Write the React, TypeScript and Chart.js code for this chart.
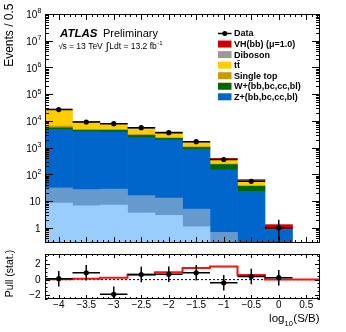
import React, { useEffect, useRef } from 'react';
import { Chart, registerables } from 'chart.js';

Chart.register(...registerables);

// ---------------- data ----------------
const binCenters = [-4, -3.5, -3, -2.5, -2, -1.5, -1, -0.5, 0];
const binWidth = 0.5;
const zLight = [8.5, 6.7, 7.1, 3.6, 2.9, 1.1, 0.25, 0.05, 0.01];
const zCl = [22.5, 20.3, 20.9, 12.4, 10.1, 3.9, 0.42, 0.1, 0.02];
const zHF = [4799, 3933, 3802, 2339, 1902, 850, 147, 23, 0.81];
const wHF = [670, 470, 600, 520, 305, 165, 85, 12.5, 0.01];
const singleTop = [950, 400, 400, 265, 135, 60, 11, 2.2, 0.001];
const ttbar = [20250, 3800, 2620, 1690, 1065, 450, 107, 17, 0.001];
const diboson = [570, 700, 650, 730, 360, 85, 9, 3, 0.01];
const vhSignal = [30, 20, 30, 40, 50, 50, 33, 5.8, 0.45];
const dataValues = [26500, 9100, 7900, 5600, 3630, 1667, 360, 55, 1];
const dataErrors = [163, 95, 89, 75, 60, 41, 19, 7.4, 1];
const pullValues = [0.12, 0.87, -1.9, 0.66, 0.7, 0.87, -0.42, 0.41, 0.25];
const pullErrors = [1, 1, 1, 1, 1, 1, 1, 1, 1];
const expBinCenters = [-4, -3.5, -3, -2.5, -2, -1.5, -1, -0.5, 0, 0.5];
const expectedPull = [0.04, 0.04, 0.12, 0.25, 0.62, 0.95, 1.5, 1.7, 0.58, 0];
const xTickValues = [-4, -3.5, -3, -2.5, -2, -1.5, -1, -0.5, 0, 0.5];
const yDecades = [0, 1, 2, 3, 4, 5, 6, 7, 8];
const pullTickValues = [-2, 0, 2];

const stackSeries = [
  { name: 'Z+l', values: zLight, color: '#99ccff' },
  { name: 'Z+cl', values: zCl, color: '#6699cc' },
  { name: 'Z+(bb,bc,cc,bl)', values: zHF, color: '#0066cc' },
  { name: 'W+(bb,bc,cc,bl)', values: wHF, color: '#006600' },
  { name: 'Single top', values: singleTop, color: '#cc9900' },
  { name: 't\u0074\u0304', values: ttbar, color: '#ffcc00' },
  { name: 'Diboson', values: diboson, color: '#999999' },
  { name: 'VH(bb) (\u03bc=1.0)', values: vhSignal, color: '#d00000' },
];
const legendOrder = ['VH(bb) (\u03bc=1.0)', 'Diboson', 't\u0074\u0304', 'Single top', 'W+(bb,bc,cc,bl)', 'Z+(bb,bc,cc,bl)'];

// ---------------- layout ----------------
const FONT = "'Liberation Sans', Arial, Helvetica, sans-serif";
const W = 346;
const PLOT_L = 45;
const PLOT_R = 320;
const MAIN_H = 250;
const PULL_H = 82;

function drawFrameTicks(ctx: any, a: any, xs: any, ys: any, o: any) {
  ctx.save();
  ctx.strokeStyle = '#000';
  ctx.lineWidth = 1;
  ctx.beginPath();
  for (const v of o.xMajor) {
    const x = Math.round(xs.getPixelForValue(v)) + 0.5;
    ctx.moveTo(x, a.bottom); ctx.lineTo(x, a.bottom - o.xMajLen);
    ctx.moveTo(x, a.top); ctx.lineTo(x, a.top + o.xMajLen);
  }
  for (const v of o.xMinor) {
    const x = Math.round(xs.getPixelForValue(v)) + 0.5;
    ctx.moveTo(x, a.bottom); ctx.lineTo(x, a.bottom - o.xMinLen);
    ctx.moveTo(x, a.top); ctx.lineTo(x, a.top + o.xMinLen);
  }
  for (const v of o.yMajor) {
    const y = Math.round(ys.getPixelForValue(v)) + 0.5;
    ctx.moveTo(a.left, y); ctx.lineTo(a.left + o.yMajLen, y);
    ctx.moveTo(a.right, y); ctx.lineTo(a.right - o.yMajLen, y);
  }
  for (const v of o.yMinor) {
    const y = Math.round(ys.getPixelForValue(v)) + 0.5;
    ctx.moveTo(a.left, y); ctx.lineTo(a.left + o.yMinLen, y);
    ctx.moveTo(a.right, y); ctx.lineTo(a.right - o.yMinLen, y);
  }
  ctx.stroke();
  ctx.strokeRect(Math.round(a.left) + 0.5, Math.round(a.top) + 0.5, Math.round(a.right - a.left) - 1, Math.round(a.bottom - a.top) - 1);
  ctx.restore();
}

function xMinorList() {
  const out: number[] = [];
  for (let k = -42; k <= 7; k++) if (k % 5 !== 0) out.push(k / 10);
  return out;
}

function drawErrorBars(ctx: any, a: any, xs: any, ys: any, centers: number[], vals: number[], errs: number[], logY: boolean) {
  ctx.save();
  ctx.beginPath();
  ctx.rect(a.left, a.top, a.right - a.left, a.bottom - a.top);
  ctx.clip();
  ctx.strokeStyle = '#000';
  ctx.lineWidth = 1.5;
  ctx.beginPath();
  centers.forEach((c, i) => {
    const y = ys.getPixelForValue(vals[i]);
    const x0 = xs.getPixelForValue(c - binWidth / 2);
    const x1 = xs.getPixelForValue(c + binWidth / 2);
    const xc = xs.getPixelForValue(c);
    const lo = vals[i] - errs[i];
    const yLo = logY && lo <= ys.min ? a.bottom : ys.getPixelForValue(lo);
    const yHi = ys.getPixelForValue(vals[i] + errs[i]);
    ctx.moveTo(x0, y); ctx.lineTo(x1, y);
    ctx.moveTo(xc, yLo); ctx.lineTo(xc, yHi);
  });
  ctx.stroke();
  ctx.restore();
}

const mainDecor = {
  id: 'mainDecor',
  afterDatasetsDraw(chart: any) {
    const ctx = chart.ctx;
    const xs = chart.scales.x;
    const ys = chart.scales.y;
    const a = chart.chartArea;
    drawErrorBars(ctx, a, xs, ys, binCenters, dataValues, dataErrors, true);

    const yMinor: number[] = [];
    for (let e = -1; e <= 7; e++) for (let m = 2; m <= 9; m++) {
      const v = m * Math.pow(10, e);
      if (v >= ys.min && v <= ys.max) yMinor.push(v);
    }
    drawFrameTicks(ctx, a, xs, ys, {
      xMajor: xTickValues, xMinor: xMinorList(), xMajLen: 6, xMinLen: 3,
      yMajor: yDecades.map((e) => Math.pow(10, e)), yMinor, yMajLen: 8, yMinLen: 4,
    });

    ctx.save();
    ctx.fillStyle = '#000';
    // y tick labels
    const right = 41.5;
    for (const e of yDecades) {
      const y = ys.getPixelForValue(Math.pow(10, e));
      ctx.textBaseline = 'middle';
      ctx.textAlign = 'right';
      if (e === 0 || e === 1) {
        ctx.font = `10px ${FONT}`;
        ctx.fillText(e === 0 ? '1' : '10', right - 1, y + 1);
      } else {
        ctx.font = `7px ${FONT}`;
        const ex = String(e);
        const ew = ctx.measureText(ex).width;
        ctx.fillText(ex, right, y - 2.5);
        ctx.font = `10px ${FONT}`;
        ctx.fillText('10', right - ew - 0.3, y + 1.5);
      }
    }
    // y title
    ctx.save();
    ctx.translate(10, 3.5);
    ctx.rotate(-Math.PI / 2);
    ctx.font = `12px ${FONT}`;
    ctx.textAlign = 'right';
    ctx.textBaseline = 'middle';
    ctx.fillText('Events / 0.5', 0, 0);
    ctx.restore();

    // ATLAS label
    ctx.textAlign = 'left';
    ctx.textBaseline = 'alphabetic';
    ctx.font = `italic bold 11.5px ${FONT}`;
    ctx.fillText('ATLAS', 60, 36.5);
    ctx.font = `11px ${FONT}`;
    ctx.fillText('Preliminary', 103, 36.5);
    // second line: sqrt(s) and luminosity
    ctx.font = `8px ${FONT}`;
    ctx.fillText('\u221A', 58.5, 48.5);
    const wRoot = ctx.measureText('\u221A').width;
    const t1 = 's = 13 TeV';
    ctx.font = `8.5px ${FONT}`;
    ctx.fillText(t1, 58.5 + wRoot - 0.5, 48.5);
    const w1 = ctx.measureText(t1).width;
    const xInt = Math.max(58.5 + wRoot + w1 + 2.5, 101);
    ctx.font = `11px ${FONT}`;
    ctx.fillText('\u222B', xInt, 49.5);
    const wInt = ctx.measureText('\u222B').width;
    ctx.font = `8.5px ${FONT}`;
    const t2 = 'Ldt = 13.2 fb';
    ctx.fillText(t2, xInt + wInt + 0.5, 48.5);
    const w2 = ctx.measureText(t2).width;
    ctx.font = `6px ${FONT}`;
    ctx.fillText('-1', xInt + wInt + 0.5 + w2 + 0.5, 44.5);

    // legend
    const rowY0 = 33.5;
    const rowStep = 10.55;
    const boxX = 218;
    const boxW = 13.5;
    const textX = 234;
    ctx.font = `bold 9px ${FONT}`;
    ctx.textBaseline = 'middle';
    ctx.strokeStyle = '#000';
    ctx.lineWidth = 1.5;
    ctx.beginPath();
    ctx.moveTo(boxX, rowY0); ctx.lineTo(boxX + boxW, rowY0);
    ctx.stroke();
    ctx.beginPath();
    ctx.arc(boxX + boxW / 2, rowY0, 2.5, 0, Math.PI * 2);
    ctx.fill();
    ctx.fillText('Data', textX, rowY0 + 0.5);
    legendOrder.forEach((name, i) => {
      const s = stackSeries.find((q) => q.name === name)!;
      const y = rowY0 + rowStep * (i + 1);
      ctx.fillStyle = s.color;
      ctx.fillRect(boxX, y - 3.5, boxW, 7);
      ctx.fillStyle = '#000';
      ctx.fillText(name, textX, y + 0.5);
    });
    ctx.restore();
  },
};

const pullDecor = {
  id: 'pullDecor',
  afterDatasetsDraw(chart: any) {
    const ctx = chart.ctx;
    const xs = chart.scales.x;
    const ys = chart.scales.y;
    const a = chart.chartArea;
    drawErrorBars(ctx, a, xs, ys, binCenters, pullValues, pullErrors, false);
    const yMinor: number[] = [];
    for (let k = -5; k <= 6; k++) {
      const v = k / 2;
      if (!pullTickValues.includes(v)) yMinor.push(v);
    }
    drawFrameTicks(ctx, a, xs, ys, {
      xMajor: xTickValues, xMinor: xMinorList(), xMajLen: 4, xMinLen: 2,
      yMajor: pullTickValues, yMinor, yMajLen: 5, yMinLen: 2.5,
    });
    ctx.save();
    ctx.fillStyle = '#000';
    ctx.font = `10px ${FONT}`;
    ctx.textAlign = 'right';
    ctx.textBaseline = 'middle';
    for (const v of pullTickValues) {
      const y = ys.getPixelForValue(v);
      ctx.fillText(v < 0 ? '\u2212' + Math.abs(v) : String(v), 40.5, y + 0.5);
    }
    // y title
    ctx.save();
    ctx.translate(10, 23.5);
    ctx.rotate(-Math.PI / 2);
    ctx.font = `10.5px ${FONT}`;
    ctx.textAlign = 'center';
    ctx.textBaseline = 'middle';
    ctx.fillText('Pull (stat.)', 0, 0);
    ctx.restore();
    // x title log10(S/B)
    ctx.textAlign = 'left';
    ctx.textBaseline = 'alphabetic';
    ctx.font = `11.5px ${FONT}`;
    const wLog = ctx.measureText('log').width;
    const wSB = ctx.measureText('(S/B)').width;
    ctx.font = `7.5px ${FONT}`;
    const wSub = ctx.measureText('10').width;
    const x0 = 319.5 - wLog - wSub - wSB - 0.5;
    ctx.font = `11.5px ${FONT}`;
    ctx.fillText('log', x0, 71.5);
    ctx.fillText('(S/B)', x0 + wLog + wSub + 0.5, 71.5);
    ctx.font = `7.5px ${FONT}`;
    ctx.fillText('10', x0 + wLog, 75.5);
    ctx.restore();
  },
};

function mainConfig(): any {
  return {
    type: 'bar',
    data: {
      datasets: [
        ...stackSeries.map((s) => ({
          type: 'bar',
          label: s.name,
          data: binCenters.map((x, i) => ({ x, y: s.values[i] })),
          backgroundColor: s.color,
          borderWidth: 0,
          stack: 'mc',
          barPercentage: 1,
          categoryPercentage: 1,
          order: 2,
        })),
        {
          type: 'line',
          label: 'Data',
          stack: 'data',
          data: binCenters.map((x, i) => ({ x, y: dataValues[i] })),
          showLine: false,
          pointRadius: 2.6,
          pointBackgroundColor: '#000',
          pointBorderColor: '#000',
          pointBorderWidth: 0,
          order: 0,
        },
      ],
    },
    options: {
      animation: false,
      responsive: false,
      events: [],
      layout: { padding: { left: 0, right: W - PLOT_R, top: 14, bottom: 7 } },
      scales: {
        x: {
          type: 'linear',
          min: -4.25,
          max: 0.75,
          offset: false,
          display: false,
          afterBuildTicks: (s: any) => { s.ticks = xTickValues.map((v) => ({ value: v })); },
        },
        y: {
          type: 'logarithmic',
          min: 0.27,
          max: 1e8,
          stacked: true,
          afterFit: (s: any) => { s.width = PLOT_L; },
          grid: { display: false, drawTicks: false },
          border: { display: false },
          ticks: { display: false },
        },
      },
      plugins: { legend: { display: false }, tooltip: { enabled: false } },
    },
    plugins: [mainDecor],
  };
}

function pullConfig(): any {
  const stepData = expBinCenters.map((c, i) => ({ x: c - binWidth / 2, y: expectedPull[i] }));
  stepData.push({ x: expBinCenters[expBinCenters.length - 1] + binWidth / 2, y: expectedPull[expectedPull.length - 1] });
  return {
    type: 'line',
    data: {
      datasets: [
        {
          label: 'Pull',
          data: binCenters.map((x, i) => ({ x, y: pullValues[i] })),
          showLine: false,
          pointRadius: 2.6,
          pointBackgroundColor: '#000',
          pointBorderColor: '#000',
          pointBorderWidth: 0,
        },
        {
          label: 'Expected',
          data: stepData,
          stepped: 'after',
          borderColor: '#ff1010',
          borderWidth: 2,
          pointRadius: 0,
          fill: false,
        },
        {
          label: 'Zero',
          data: [{ x: -4.25, y: 0 }, { x: 0.75, y: 0 }],
          borderColor: '#000',
          borderWidth: 1,
          borderDash: [2, 2],
          pointRadius: 0,
          fill: false,
        },
      ],
    },
    options: {
      animation: false,
      responsive: false,
      events: [],
      layout: { padding: { left: 0, right: W - PLOT_R, top: 3, bottom: 0 } },
      scales: {
        x: {
          type: 'linear',
          min: -4.25,
          max: 0.75,
          offset: false,
          afterBuildTicks: (s: any) => { s.ticks = xTickValues.map((v) => ({ value: v })); },
          afterFit: (s: any) => { s.height = 33; },
          grid: { display: false, drawTicks: false },
          border: { display: false },
          ticks: {
            autoSkip: false,
            maxRotation: 0,
            minRotation: 0,
            padding: 0,
            color: '#000',
            font: { family: FONT, size: 10 },
            callback: (v: any) => { const n = Number(v); return n < 0 ? '\u2212' + Math.abs(n) : String(n); },
          },
        },
        y: {
          type: 'linear',
          min: -2.5,
          max: 3.3,
          afterFit: (s: any) => { s.width = PLOT_L; },
          grid: { display: false, drawTicks: false },
          border: { display: false },
          ticks: { display: false },
        },
      },
      plugins: { legend: { display: false }, tooltip: { enabled: false } },
    },
    plugins: [pullDecor],
  };
}

export default function App() {
  const mainRef = useRef<HTMLCanvasElement>(null);
  const pullRef = useRef<HTMLCanvasElement>(null);
  useEffect(() => {
    const c1 = new Chart(mainRef.current as HTMLCanvasElement, mainConfig());
    const c2 = new Chart(pullRef.current as HTMLCanvasElement, pullConfig());
    return () => { c1.destroy(); c2.destroy(); };
  }, []);
  return (
    <div style={{ position: 'absolute', left: 0, top: 0, width: W, height: MAIN_H + PULL_H, background: '#fff' }}>
      <canvas ref={mainRef} width={W} height={MAIN_H} style={{ position: 'absolute', left: 0, top: 0, width: W, height: MAIN_H }} />
      <canvas ref={pullRef} width={W} height={PULL_H} style={{ position: 'absolute', left: 0, top: MAIN_H, width: W, height: PULL_H }} />
    </div>
  );
}
